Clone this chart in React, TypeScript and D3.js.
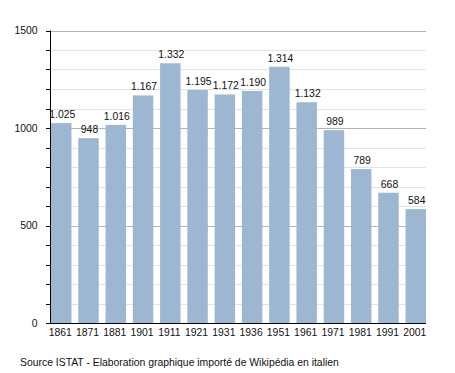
import React from "react";
import * as d3 from "d3";

const years = ["1861","1871","1881","1901","1911","1921","1931","1936","1951","1961","1971","1981","1991","2001"];
const population = [1025, 948, 1016, 1167, 1332, 1195, 1172, 1190, 1314, 1132, 989, 789, 668, 584];
const valueLabels = ["1.025","948","1.016","1.167","1.332","1.195","1.172","1.190","1.314","1.132","989","789","668","584"];
const majorTicks = [0, 500, 1000, 1500];
const minorTicks = d3.range(0, 1501, 100);
const sourceText = "Source ISTAT - Elaboration graphique importé de Wikipédia en italien";

export default function App() {
  const W = 455, H = 373;
  const left = 50.5, right = 426, top = 30.5, bottom = 323;
  const x = d3.scaleBand<string>().domain(years).range([51, 426]).paddingInner(0.25).paddingOuter(0);
  const y = d3.scaleLinear().domain([0, 1500]).range([bottom, top]);
  const font = "'Liberation Sans', Arial, sans-serif";

  return (
    <svg width={W} height={H} style={{ position: "absolute", left: 0, top: 0, background: "#fff" }} fontFamily={font} fontSize={10.4}>
      {minorTicks.filter(t => t % 500 !== 0).map(t => (
        <line key={"g" + t} x1={left} x2={right} y1={Math.round(y(t)) + 0.5} y2={Math.round(y(t)) + 0.5} stroke="#e2e2e2" />
      ))}
      {majorTicks.filter(t => t !== 0).map(t => (
        <line key={"G" + t} x1={left} x2={right} y1={Math.round(y(t)) + 0.5} y2={Math.round(y(t)) + 0.5} stroke="#b4b4b4" />
      ))}
      {population.map((v, i) => (
        <rect key={years[i]} x={x(years[i])} y={y(v)} width={x.bandwidth()} height={bottom - y(v)} fill="#9db6d2" />
      ))}
      {population.map((v, i) => (
        <text key={"v" + i} x={(x(years[i]) as number) + x.bandwidth() / 2 + 1} y={y(v) - 5} textAnchor="middle" fill="#111">{valueLabels[i]}</text>
      ))}
      <line x1={left} x2={left} y1={top} y2={bottom} stroke="#000" />
      <line x1={left} x2={right} y1={bottom + 0.5} y2={bottom + 0.5} stroke="#000" />
      {minorTicks.map(t => (
        <line key={"t" + t} x1={46} x2={left} y1={Math.round(y(t)) + 0.5} y2={Math.round(y(t)) + 0.5} stroke="#000" />
      ))}
      {majorTicks.map(t => (
        <text key={"l" + t} x={37.5} y={y(t)} dy="0.35em" textAnchor="end" fill="#111">{t}</text>
      ))}
      {years.map(yr => (
        <text key={"x" + yr} x={(x(yr) as number) + x.bandwidth() / 2 - 1} y={336} textAnchor="middle" fill="#111">{yr}</text>
      ))}
      <text x={20} y={366} fill="#111">{sourceText}</text>
    </svg>
  );
}
